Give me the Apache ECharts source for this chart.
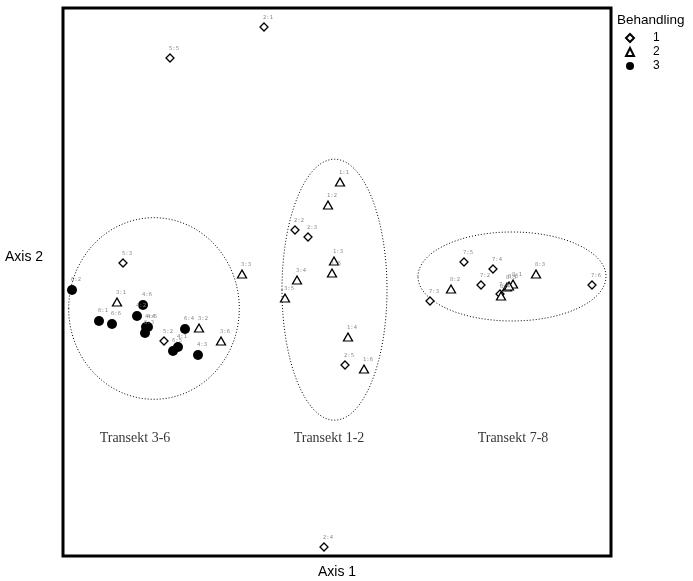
<!DOCTYPE html>
<html>
<head>
<meta charset="utf-8">
<script src="https://cdn.jsdelivr.net/npm/echarts@6/dist/echarts.min.js"></script>
<style>html,body{margin:0;padding:0;background:#fff;}#c{width:693px;height:581px;}</style>
</head>
<body>
<div id="c"></div>
<script>
// Treatment 1 (open diamonds)
const labels1 = ['2:1','5:5','5:3','5:2','2:2','2:3','2:5','2:4','7:5','7:4','7:2','7:3','7:6','7:1'];
const x1 = [201,107,60,101,232,245,282,261,401,430,418,367,529,437];
const y1 = [529,498,293,215,326,319,191,9,294,287,271,255,271,262];
// Treatment 2 (open triangles)
const labels2 = ['3:3','3:1','3:2','3:6','1:1','1:2','1:3','1:5','3:4','3:5','1:4','1:6','8:2','8:3','8:1','8:5','8:6','8:4'];
const x2 = [179,54,136,158,277,265,271,269,234,222,285,301,388,473,450,444,446,438];
const y2 = [282,254,228,215,374,351,295,283,276,258,219,187,267,282,272,269,270,260];
// Treatment 3 (filled circles)
const labels3 = ['6:2','4:6','4:2','6:1','6:6','4:4','4:5','6:3','6:4','4:1','6:5','4:3'];
const x3 = [9,80,74,36,49,83,85,82,122,115,110,135];
const y3 = [266,251,240,235,232,229,229,223,227,209,205,201];
// Group ellipses: centre x, centre y, radius x, radius y
const ellCx = [91,271.5,449];
const ellCy = [247.5,266.3,279.5];
const ellRx = [85.3,52.5,94];
const ellRy = [90.8,130.5,44.5];
// Group names and positions
const groupNames = ['Transekt 3-6','Transekt 1-2','Transekt 7-8'];
const groupX = [72,266,450];
const groupY = [118,118,118];

function pts(xs, ys, ls){ return xs.map((x,i)=>({value:[x, ys[i]], name: ls[i]})); }

const ptLabel = {
  show: true, position: 'top', distance: 2, offset: [4, 0],
  formatter: p => p.name, fontSize: 5.5, color: '#888',
  fontFamily: 'DejaVu Sans Mono'
};

const chart = echarts.init(document.getElementById('c'), null, {renderer:'canvas'});
chart.setOption({
  animation: false,
  backgroundColor: '#fff',
  grid: {left: 63, top: 8, width: 548, height: 548, show: true, borderColor: '#000', borderWidth: 3,
    backgroundColor: 'transparent', outerBoundsMode: 'none', containLabel: false},
  xAxis: {type:'value', min:0, max:548, axisLine:{show:false}, axisTick:{show:false}, axisLabel:{show:false}, splitLine:{show:false},
    name:'Axis 1', nameLocation:'middle', nameGap:9, nameTextStyle:{fontSize:14, color:'#000', fontFamily:'Liberation Sans'}},
  yAxis: {type:'value', min:0, max:548, axisLine:{show:false}, axisTick:{show:false}, axisLabel:{show:false}, splitLine:{show:false}},
  title: {text:'Behandling', left: 612, top: 8, textStyle:{fontSize:13.5, fontWeight:'normal', color:'#000', fontFamily:'Liberation Sans'}},
  legend: {
    data: ['1','2','3'], orient:'vertical', left: 620, top: 27, itemWidth: 8, itemHeight: 8, itemGap: 2,
    textStyle:{fontSize:12, color:'#000', fontFamily:'Liberation Sans', padding:[0,0,0,14]}
  },
  graphic: [
    {type:'text', left: 5, top: 250, style:{text:'Axis 2', fontSize:14, fill:'#000', fontFamily:'Liberation Sans'}}
  ],
  series: [
    {
      type:'custom', name:'ellipses', silent:true,
      data: ellCx.map((c,i)=>[c, ellCy[i], ellRx[i], ellRy[i]]),
      renderItem: (params, api) => {
        const c = api.coord([api.value(0), api.value(1)]);
        const s = api.size([api.value(2), api.value(3)]);
        return {type:'ellipse', shape:{cx:c[0], cy:c[1], rx:s[0], ry:s[1]},
          style:{fill:null, stroke:'#000', lineWidth:1, lineDash:[1,2]}};
      }
    },
    {
      type:'scatter', name:'groups', silent:true, symbol:'circle', symbolSize:1,
      itemStyle:{color:'transparent'},
      data: groupX.map((x,i)=>({value:[x, groupY[i]], name: groupNames[i]})),
      label:{show:true, position:'inside', formatter:p=>p.name, fontSize:14, color:'#000', fontFamily:'Liberation Serif'}
    },
    {
      type:'scatter', name:'1', symbol:'diamond', symbolSize:8,
      itemStyle:{color:'#fff', borderColor:'#000', borderWidth:1.3, opacity:1},
      data: pts(x1,y1,labels1), label: ptLabel
    },
    {
      type:'scatter', name:'2', symbol:'triangle', symbolSize:[9,8],
      itemStyle:{color:'#fff', borderColor:'#000', borderWidth:1.3, opacity:1},
      data: pts(x2,y2,labels2), label: ptLabel
    },
    {
      type:'scatter', name:'3', symbol:'circle', symbolSize:10,
      itemStyle:{color:'#000', opacity:1},
      data: pts(x3,y3,labels3), label: ptLabel
    }
  ]
});
</script>
</body>
</html>
